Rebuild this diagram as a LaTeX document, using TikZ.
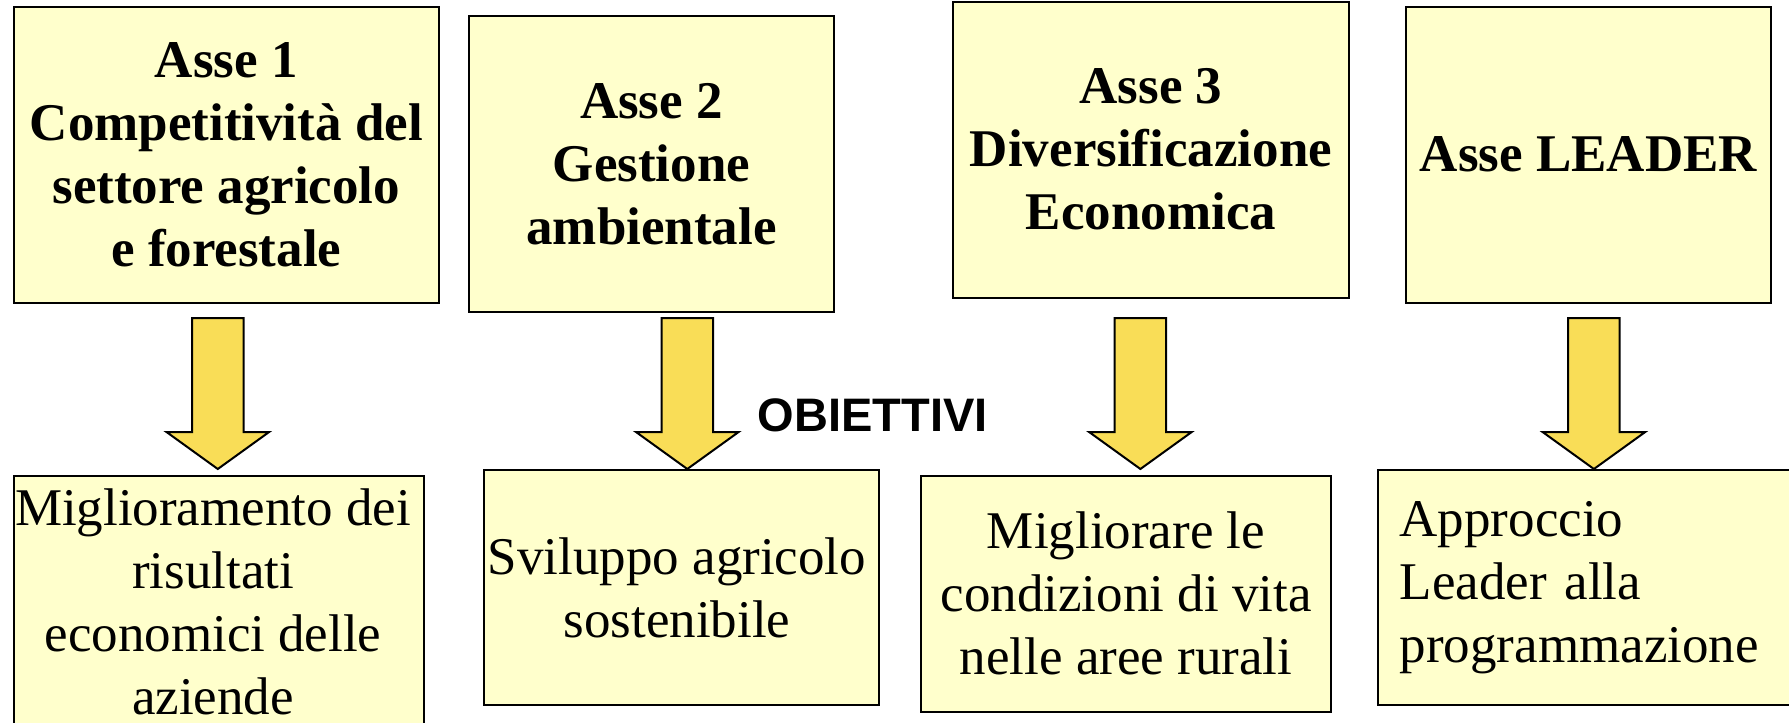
\documentclass[tikz,border=0pt]{standalone}
\usepackage{fontspec}
\setmainfont{Liberation Serif}
\newfontfamily\arialfont{Liberation Sans}
\definecolor{boxfill}{HTML}{FFFFCC}
\definecolor{arrowfill}{HTML}{F9DD57}
\tikzset{
  box/.style={draw=black, line width=2pt, fill=boxfill, rectangle, inner sep=0pt,
    align=center, font=\fontsize{53}{63}\selectfont},
  axisbox/.style={box, font=\fontsize{53}{63}\selectfont\bfseries},
  blockarrowstyle/.style={draw=black, line width=2pt, fill=arrowfill, line join=miter},
  pics/blockarr/.style={code={
    \draw[blockarrowstyle] (-25.7,-151) -- (25.7,-151) -- (25.7,-37) -- (51.3,-37)
      -- (0,0) -- (-51.3,-37) -- (-25.7,-37) -- cycle;}},
}
\begin{document}
\begin{tikzpicture}[x=1pt,y=-1pt]
\useasboundingbox (0,0) rectangle (1789,723);
\fill[white] (0,0) rectangle (1789,723);
\clip (0,0) rectangle (1789,723);

% top boxes
\node[axisbox, minimum width=425.3pt, minimum height=296.7pt] (a1) at (226.3,155.1)
  {Asse 1\\Competitività del\\settore agricolo\\e forestale};
\node[axisbox, minimum width=365pt, minimum height=295.5pt] (a2) at (651.5,163.75)
  {Asse 2\\Gestione\\ambientale};
\node[axisbox, minimum width=396pt, minimum height=296pt] (a3) at (1151,149.5)
  {Asse 3\\Diversificazione\\Economica};
\node[axisbox, minimum width=364.3pt, minimum height=296.5pt] (a4) at (1588.5,154.75)
  {Asse LEADER};

% bottom boxes
\node[box, minimum width=410.2pt, minimum height=251.4pt] (o1) at (218.9,601.7) {};
\node[font=\fontsize{53}{63}\selectfont, align=center, inner sep=0pt] (o1t) at (213,601.7)
  {Miglioramento dei\\risultati\\economici delle\\aziende};
\node[box, minimum width=395.4pt, minimum height=235pt] (o2) at (681.7,587.5) {};
\node[font=\fontsize{53}{63}\selectfont, align=center, inner sep=0pt] (o2t) at (677,587.5)
  {Sviluppo agricolo\\sostenibile};
\node[box, minimum width=410.7pt, minimum height=235.5pt] (o3) at (1126,593.75)
  {Migliorare le\\condizioni di vita\\nelle aree rurali};
\node[box, align=left, text width=379pt, inner xsep=22.2pt, minimum height=235pt,
  anchor=west] (o4) at (1376.5,587.5)
  {Approccio\\Leader alla\\programmazione};

% arrows
\coordinate (t1) at (217.8,469);
\coordinate (t2) at (687.3,469);
\coordinate (t3) at (1140.4,469);
\coordinate (t4) at (1593.9,469);
\pic at (t1) {blockarr};
\pic at (t2) {blockarr};
\pic at (t3) {blockarr};
\pic at (t4) {blockarr};

% label
\node[anchor=base west, inner sep=0pt, font=\arialfont\bfseries\fontsize{47}{56}\selectfont]
  (obj) at (757.7,431) {OBIETTIVI};
\end{tikzpicture}
\end{document}
